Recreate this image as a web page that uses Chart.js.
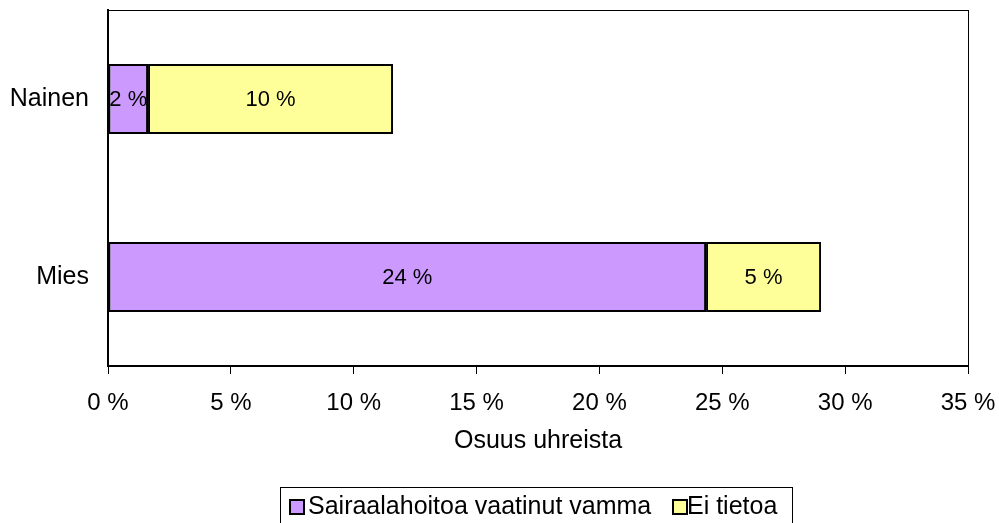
<!DOCTYPE html>
<html>
<head>
<meta charset="utf-8">
<script src="https://cdn.jsdelivr.net/npm/chart.js@4"></script>
<style>
  html, body { margin: 0; padding: 0; background: #fff; overflow: hidden; }
  #wrap { position: relative; width: 999px; height: 523px; }
  #legend {
    position: absolute; left: 280px; top: 487px; width: 513px; height: 40px;
    border: 1px solid #000; box-sizing: border-box;
    font-family: 'Liberation Sans', Arial, sans-serif; font-size: 25px; color: #000;
  }
  #legend .mk { position: absolute; top: 11px; width: 12px; height: 12px; border: 2px solid #000; }
  #legend .tx { position: absolute; top: 2px; line-height: 30px; white-space: nowrap; }
</style>
</head>
<body>
<div id="wrap">
  <canvas id="chart" width="999" height="523"></canvas>
  <div id="legend"></div>
</div>
<script>
const categories = ["Nainen", "Mies"]
const seriesNames = ["Sairaalahoitoa vaatinut vamma", "Ei tietoa"]
const seriesColors = ["#CC99FF", "#FFFF99"]
const hospital = [1.63, 24.34]
const unknown = [9.97, 4.68]
const xTicks = [0, 5, 10, 15, 20, 25, 30, 35]

const FONT = "'Liberation Sans', Arial, sans-serif"

// frame around plot area + bar value labels
const framePlugin = {
  id: "frame",
  afterDatasetsDraw(chart) {
    const { ctx, chartArea: a } = chart
    ctx.save()
    ctx.strokeStyle = "#000"
    ctx.lineWidth = 1
    ctx.strokeRect(a.left + 0.5, a.top + 0.5, a.right - a.left, a.bottom - a.top)
    ctx.font = "22px " + FONT
    ctx.fillStyle = "#000"
    ctx.textAlign = "center"
    ctx.textBaseline = "middle"
    chart.data.datasets.forEach((ds, i) => {
      chart.getDatasetMeta(i).data.forEach((bar, j) => {
        const x = (bar.x + bar.base) / 2
        ctx.fillText(Math.round(ds.data[j]) + " %", x, bar.y + 1)
      })
    })
    ctx.restore()
  }
}

const chart = new Chart(document.getElementById("chart"), {
  type: "bar",
  data: {
    labels: categories,
    datasets: [
      {
        label: seriesNames[0],
        data: hospital,
        backgroundColor: seriesColors[0],
        borderColor: "#000",
        borderWidth: 2,
        borderSkipped: false
      },
      {
        label: seriesNames[1],
        data: unknown,
        backgroundColor: seriesColors[1],
        borderColor: "#000",
        borderWidth: 2,
        borderSkipped: false
      }
    ]
  },
  options: {
    indexAxis: "y",
    responsive: false,
    animation: false,
    barPercentage: 0.393,
    categoryPercentage: 1,
    layout: { padding: { top: 10, right: 31, left: 0, bottom: 67 } },
    scales: {
      x: {
        stacked: true,
        min: 0,
        max: 35,
        afterBuildTicks(scale) { scale.ticks = xTicks.map(v => ({ value: v })) },
        ticks: {
          color: "#000",
          font: { family: FONT, size: 24 },
          padding: 15,
          maxRotation: 0,
          callback: v => v + " %"
        },
        grid: { drawOnChartArea: false, color: "#000", tickLength: 8, lineWidth: 1 },
        border: { color: "#000", width: 2 },
        title: {
          display: true,
          text: "Osuus uhreista",
          color: "#000",
          font: { family: FONT, size: 25 },
          padding: { top: 0, bottom: 0 }
        },
        afterFit(scale) {
          scale.height = 90
          scale.paddingLeft = 0
          scale.paddingRight = 0
        }
      },
      y: {
        stacked: true,
        ticks: { color: "#000", font: { family: FONT, size: 25 }, padding: 11 },
        grid: { display: false },
        border: { color: "#000", width: 2 },
        afterFit(scale) {
          scale.width = 108
          scale.paddingTop = 0
          scale.paddingBottom = 0
        }
      }
    },
    plugins: {
      legend: { display: false },
      tooltip: { enabled: false }
    }
  },
  plugins: [framePlugin]
})

// legend built from the dataset list
const legendEl = document.getElementById("legend")
const markerLeft = [8, 391]
const textLeft = [27, 406]
chart.data.datasets.forEach((ds, i) => {
  const mk = document.createElement("span")
  mk.className = "mk"
  mk.style.left = markerLeft[i] + "px"
  mk.style.background = ds.backgroundColor
  const tx = document.createElement("span")
  tx.className = "tx"
  tx.style.left = textLeft[i] + "px"
  tx.textContent = ds.label
  legendEl.appendChild(mk)
  legendEl.appendChild(tx)
})
</script>
</body>
</html>
